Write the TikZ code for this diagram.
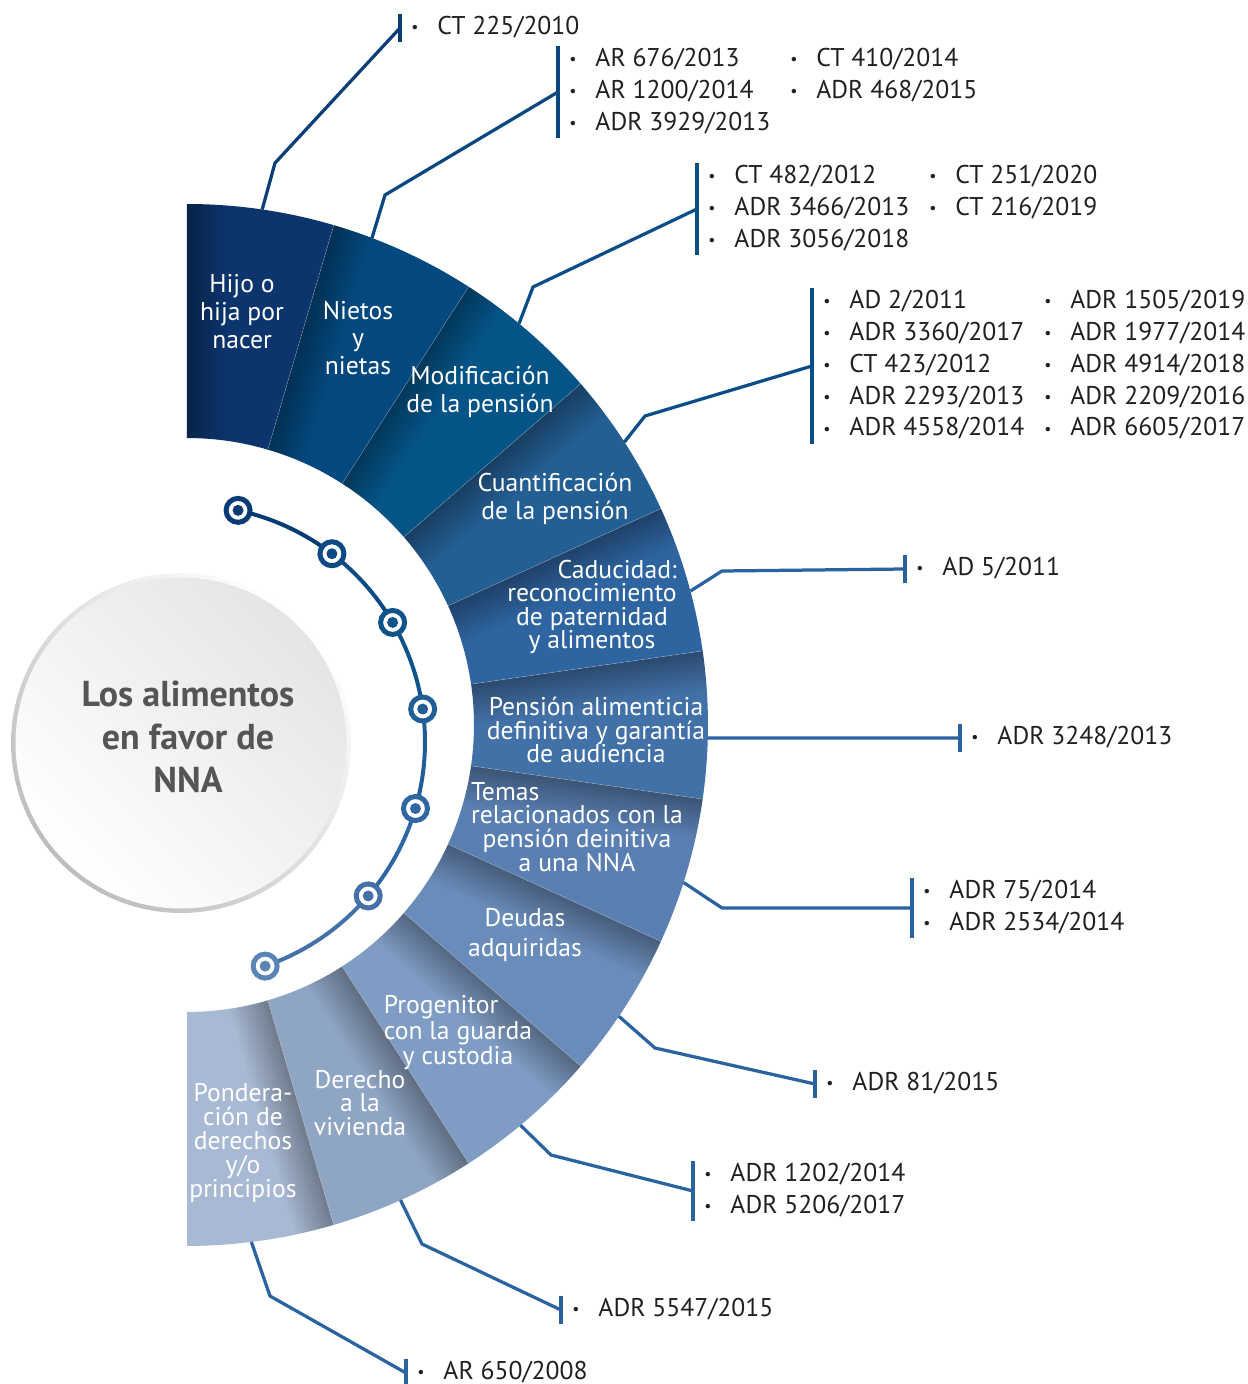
\documentclass[tikz,border=0pt]{standalone}
\usepackage{fontspec}
\setmainfont{PT Sans}
\usetikzlibrary{positioning}

% ring colours
\definecolor{seg1}{HTML}{0C356E}
\definecolor{seg2}{HTML}{03497F}
\definecolor{seg3}{HTML}{045488}
\definecolor{seg4}{HTML}{245F94}
\definecolor{seg5}{HTML}{2E64A0}
\definecolor{seg6}{HTML}{4271A8}
\definecolor{seg7}{HTML}{5A80B3}
\definecolor{seg8}{HTML}{6A8CBA}
\definecolor{seg9}{HTML}{7F9CC4}
\definecolor{seg10}{HTML}{8FA5C4}
\definecolor{seg11}{HTML}{A8B9D3}
% connector colours
\definecolor{lkdark}{HTML}{0B3E78}
\definecolor{lkmid}{HTML}{08477F}
\definecolor{lknavy}{HTML}{0B4E87}
\definecolor{lkblue}{HTML}{2A63A0}
% dot colours
\definecolor{dc1}{HTML}{073B76}
\definecolor{dc2}{HTML}{0B4A82}
\definecolor{dc3}{HTML}{0F538B}
\definecolor{dc4}{HTML}{215E97}
\definecolor{dc5}{HTML}{2E67A1}
\definecolor{dc6}{HTML}{4471A8}
\definecolor{dc7}{HTML}{5B84B6}
\definecolor{listtext}{HTML}{231F20}
\definecolor{titlegray}{HTML}{555555}
\definecolor{rimgray}{HTML}{BDBDBD}
\definecolor{hubgray}{HTML}{E4E5E6}

% one shading per ring segment, dark along its leading edge
\foreach \i in {1,...,11}{%
    \colorlet{sb}{seg\i}\colorlet{sd}{seg\i!66!black}%
    \pgfdeclareverticalshading{segshade\i}{100bp}{color(0bp)=(sb); color(61bp)=(sb); color(75bp)=(sd); color(100bp)=(sd)}%
}

\newcommand{\blt}{\raisebox{0.15ex}{\fontsize{9pt}{9pt}\selectfont\textbullet}}
\newcommand{\reftab}[1]{\begin{tabular}{@{\hspace{0.22cm}}c@{\hspace{0.38cm}}l@{\hspace{0.4cm}}c@{\hspace{0.38cm}}l@{}}#1\end{tabular}}

\begin{document}
\begin{tikzpicture}[x=0.02cm, y=0.02cm,
    seglabel/.style={text=white, align=center, inner sep=0pt, font=\fontsize{14.6pt}{#1}\selectfont},
    seglabel/.default=15.9pt,
    reflist/.style={anchor=west, inner sep=0pt, text=listtext, font=\fontsize{14.6pt}{18.1pt}\selectfont},
    link/.style={line width=0.065cm, line join=miter},
    bar/.style={line width=0.08cm},
    arcline/.style={line width=0.08cm},
    dotring/.style={circle, draw=#1, line width=0.1cm, fill=white, minimum size=0.48cm, inner sep=0pt,
        path picture={\fill[#1] (path picture bounding box.center) circle[radius=0.11cm];}},
]
\useasboundingbox (-187,-659) rectangle (1061,725);
\fill[white] (-187,-659) rectangle (1061,725);

% Ring of topics
\foreach \i in {1,...,11} {
    \pgfmathsetmacro\a{90-(\i-1)*180/11}
    \begin{scope}[transform canvas={rotate=\a}]
        \shade[shading=segshade\i] (0:287) -- (0:521) arc[start angle=0, end angle=-16.3636, radius=521]
            -- (-16.3636:287) arc[start angle=-16.3636, end angle=0, radius=287] -- cycle;
    \end{scope}
}
\foreach \i in {1,...,10}
    \draw[white, opacity=0.3, line width=0.3pt] ({90-\i*180/11}:287) -- ({90-\i*180/11}:521);

% Topic labels
\node[seglabel] (hijo) at (55,413) {Hijo o\\hija por\\nacer};
\node[seglabel] (nietos) at (171,387) {Nietos\\y\\nietas};
\node[seglabel] (modif) at (293,333) {Modificación\\de la pensión};
\node[seglabel] (cuanti) at (368,226) {Cuantificación\\de la pensión};
\node[seglabel=13.4pt] (caduc) at (405,118) {\phantom{reconocimiento}\llap{Caducidad:}\\reconocimiento\\de paternidad\\y alimentos};
\node[seglabel=13.6pt] (pension) at (409,-5) {Pensión alimenticia\\definitiva y garantía\\de audiencia};
\node[seglabel=13.6pt] (temas) at (390,-102) {\rlap{Temas}\phantom{relacionados con la}\\relacionados con la\\pensión deinitiva\\a una NNA};
\node[seglabel=17pt] (deudas) at (338,-210) {Deudas\\adquiridas};
\node[seglabel=14.5pt] (progen) at (271,-308) {\rlap{Progenitor}\phantom{con la guarda}\\con la guarda\\y custodia};
\node[seglabel=13.6pt] (derecho) at (173,-378) {Derecho\\a la\\vivienda};
\node[seglabel=13.6pt] (ponder) at (56,-418) {Pondera-\\ción de\\derechos\\y/o\\principios};

% Lists of rulings
\node[reflist] (refs-hijo) at (213,697) {\reftab{\blt & CT 225/2010}};
\node[reflist] (refs-nietos) at (371,633) {\reftab{\blt & AR 676/2013 & \blt & CT 410/2014\\
    \blt & AR 1200/2014 & \blt & ADR 468/2015\\ \blt & ADR 3929/2013 & &}};
\node[reflist] (refs-modif) at (510,516) {\reftab{\blt & CT 482/2012 & \blt & CT 251/2020\\
    \blt & ADR 3466/2013 & \blt & CT 216/2019\\ \blt & ADR 3056/2018 & &}};
\node[reflist] (refs-cuanti) at (625,359) {\reftab{\blt & AD 2/2011 & \blt & ADR 1505/2019\\
    \blt & ADR 3360/2017 & \blt & ADR 1977/2014\\ \blt & CT 423/2012 & \blt & ADR 4914/2018\\
    \blt & ADR 2293/2013 & \blt & ADR 2209/2016\\ \blt & ADR 4558/2014 & \blt & ADR 6605/2017}};
\node[reflist] (refs-caduc) at (718,156) {\reftab{\blt & AD 5/2011}};
\node[reflist] (refs-pension) at (773,-13) {\reftab{\blt & ADR 3248/2013}};
\node[reflist] (refs-temas) at (725,-183) {\reftab{\blt & ADR 75/2014\\ \blt & ADR 2534/2014}};
\node[reflist] (refs-deudas) at (628,-359) {\reftab{\blt & ADR 81/2015}};
\node[reflist] (refs-progen) at (506,-466) {\reftab{\blt & ADR 1202/2014\\ \blt & ADR 5206/2017}};
\node[reflist] (refs-derecho) at (374,-585) {\reftab{\blt & ADR 5547/2015}};
\node[reflist] (refs-ponder) at (219,-648) {\reftab{\blt & AR 650/2008}};

% Connectors
\coordinate (s1) at (81.7:521);  \coordinate (e1) at (88,562);
\coordinate (s2) at (69.2:521);  \coordinate (e2) at (198,530);
\coordinate (s3) at (50.4:521);  \coordinate (e3) at (346,438);
\coordinate (s4) at (32.9:521);  \coordinate (e4) at (458,309);
\coordinate (s5) at (14.9:521);  \coordinate (e5) at (535,154);
\coordinate (s6) at (-1.43:521);
\coordinate (s7) at (-17.6:521); \coordinate (e7) at (535,-183);
\coordinate (s8) at (-34:521);   \coordinate (e8) at (468,-323);
\coordinate (s9) at (-50.2:521); \coordinate (e9) at (364,-430);
\coordinate (s10) at (-65.8:521); \coordinate (e10) at (235,-519);
\coordinate (s11) at (-82.9:521); \coordinate (e11) at (83,-571);

\draw[link, lkdark] (s1) -- (e1) -- (refs-hijo.west);
\draw[link, lkmid] (s2) -- (e2) -- (refs-nietos.west);
\draw[link, lknavy] (s3) -- (e3) -- (refs-modif.west);
\draw[link, lknavy] (s4) -- (e4) -- (refs-cuanti.west);
\draw[link, lkblue] (s5) -- (e5) -- (refs-caduc.west);
\draw[link, lkblue] (s6) -- (refs-pension.west);
\draw[link, lkblue] (s7) -- (e7) -- (refs-temas.west);
\draw[link, lkblue] (s8) -- (e8) -- (refs-deudas.west);
\draw[link, lkblue] (s9) -- (e9) -- (refs-progen.west);
\draw[link, lkblue] (s10) -- (e10) -- (refs-derecho.west);
\draw[link, lkblue] (s11) -- (e11) -- (refs-ponder.west);

% Bars
\foreach \r/\c in {hijo/lkdark, nietos/lkmid, modif/lknavy, cuanti/lknavy, caduc/lkblue, pension/lkblue,
    temas/lkblue, deudas/lkblue, progen/lkblue, derecho/lkblue, ponder/lkblue}
    \draw[bar, \c] ([yshift=-0.04cm]refs-\r.north west) -- ([yshift=0.04cm]refs-\r.south west);

% Central circle
\node[circle, minimum size=6.8cm, inner sep=0pt, top color=white, bottom color=rimgray, shading angle=-45] (hubrim) at (-6,-18) {};
\node[circle, minimum size=6.62cm, inner sep=0pt, top color=hubgray, bottom color=white, shading angle=-45] (hub) at (hubrim) {};
\node[text=titlegray, align=center, font=\bfseries\fontsize{20.5pt}{24.5pt}\selectfont] (title) at (1,-12) {Los alimentos\\en favor de\\NNA};

% Dotted arc
\begin{scope}[shift={(1,-17)}]
\foreach \n/\ang in {1/77.8, 2/52.6, 3/30.3, 4/8.0, 5/-16.3, 6/-40.5, 7/-71}
    \coordinate (p\n) at (\ang:237);
\end{scope}
\foreach \n/\a/\b/\c in {1/77.8/52.6/dc1, 2/52.6/30.3/dc2, 3/30.3/8.0/dc3, 4/8.0/-16.3/dc4, 5/-16.3/-40.5/dc5, 6/-40.5/-71/dc6}
    \draw[arcline, \c] (p\n) arc[start angle=\a, end angle=\b, radius=237];
\foreach \n/\c in {1/dc1, 2/dc2, 3/dc3, 4/dc4, 5/dc5, 6/dc6, 7/dc7}
    \node[dotring=\c] (dot\n) at (p\n) {};

\end{tikzpicture}
\end{document}
